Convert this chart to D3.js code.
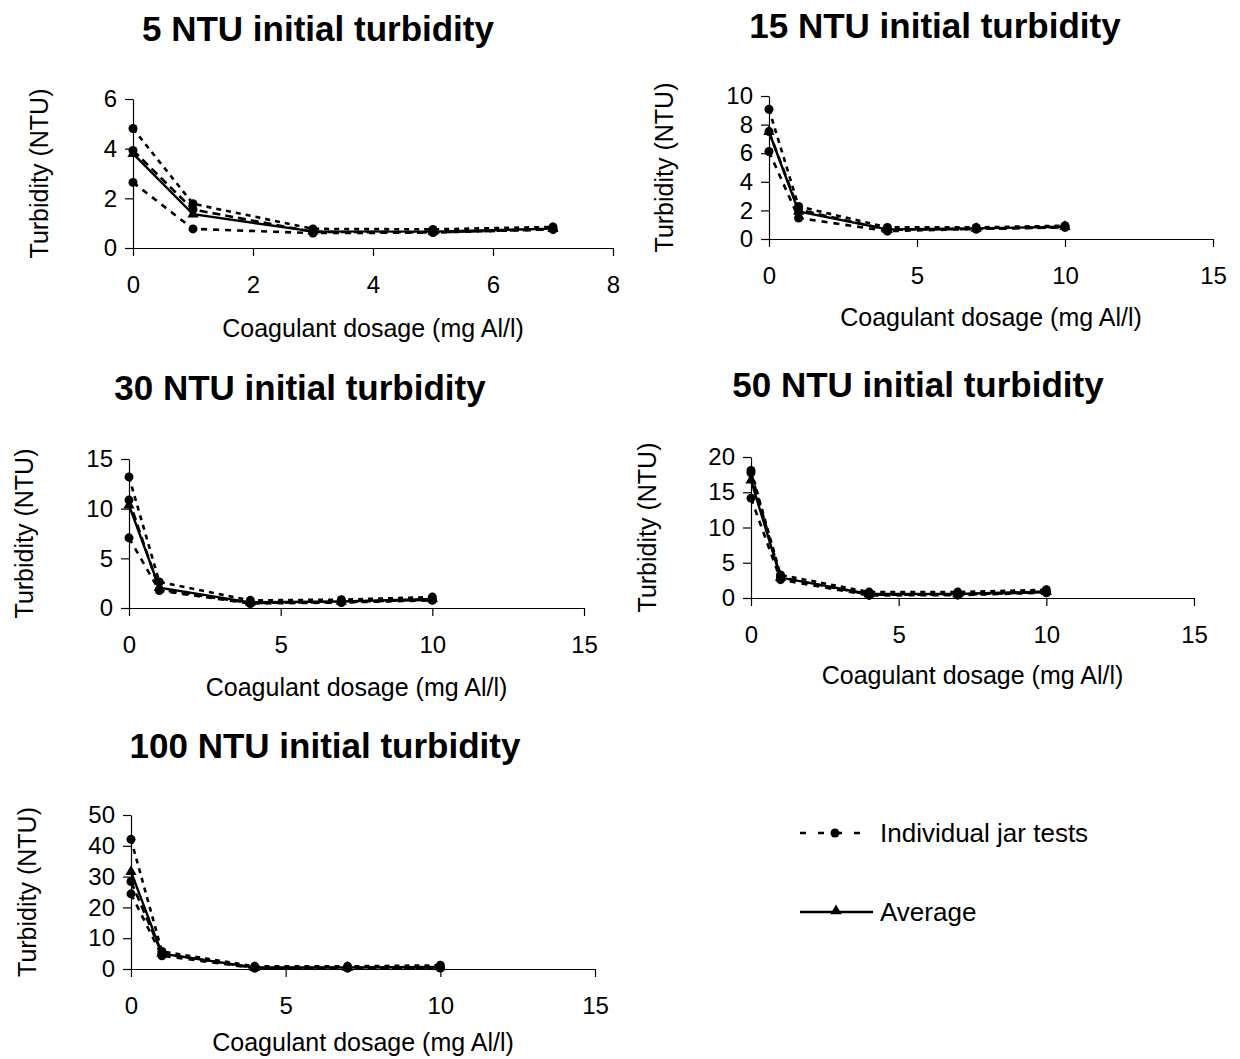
<!DOCTYPE html>
<html>
<head>
<meta charset="utf-8">
<script src="https://d3js.org/d3.v7.min.js"></script>
<style>
  body { margin: 0; background: #fff; }
  svg text { font-family: Arial, "Liberation Sans", sans-serif; fill: #000; }
  .axis text { font-size: 24px; }
  .axis path, .axis line { stroke: #000; stroke-width: 1.2px; }
  .title { font-size: 35px; font-weight: bold; }
  .axisText { font-size: 25px; }
  .legendText { font-size: 26px; }
</style>
</head>
<body>
<div id="svg-area"></div>
<script>
// dosages (mg Al/l)
var dosage5 = [0, 1, 3, 5, 7];
var dosage = [0, 1, 4, 7, 10];

// individual jar tests and average, per initial turbidity
var jar5 = [
  [4.81, 1.78, 0.77, 0.75, 0.85],
  [3.93, 1.55, 0.65, 0.63, 0.75],
  [2.64, 0.77, 0.60, 0.62, 0.75]
];
var avg5 = [3.8, 1.36, 0.67, 0.66, 0.78];

var jar15 = [
  [9.07, 2.28, 0.81, 0.81, 0.93],
  [7.51, 2.05, 0.65, 0.70, 0.81],
  [6.12, 1.47, 0.55, 0.70, 0.85]
];
var avg15 = [7.5, 1.93, 0.67, 0.74, 0.86];

var jar30 = [
  [13.2, 2.62, 0.77, 0.84, 1.10],
  [10.86, 1.85, 0.50, 0.60, 0.84],
  [7.06, 1.75, 0.45, 0.55, 0.77]
];
var avg30 = [10.35, 2.05, 0.57, 0.66, 0.9];

var jar50 = [
  [18.1, 3.27, 0.84, 0.84, 1.17],
  [17.75, 2.94, 0.47, 0.47, 0.84],
  [14.16, 2.60, 0.37, 0.40, 0.75]
];
var avg50 = [16.7, 2.9, 0.56, 0.57, 0.92];

var jar100 = [
  [42.1, 5.7, 0.86, 0.86, 1.2],
  [28.4, 5.0, 0.30, 0.30, 0.5],
  [24.4, 4.3, 0.30, 0.35, 0.3]
];
var avg100 = [31.6, 5.0, 0.49, 0.5, 0.67];

// tick labels
var xTicks5 = [0, 2, 4, 6, 8];
var xTicks = [0, 5, 10, 15];
var yTicks5 = [0, 2, 4, 6];
var yTicks15 = [0, 2, 4, 6, 8, 10];
var yTicks30 = [0, 5, 10, 15];
var yTicks50 = [0, 5, 10, 15, 20];
var yTicks100 = [0, 10, 20, 30, 40, 50];

var titles = ["5 NTU initial turbidity", "15 NTU initial turbidity", "30 NTU initial turbidity",
  "50 NTU initial turbidity", "100 NTU initial turbidity"];

var svgWidth = 1240;
var svgHeight = 1059;

var svg = d3.select("#svg-area")
  .append("svg")
  .attr("width", svgWidth)
  .attr("height", svgHeight);

// panel layout (pixels)
var panels = [
  { x: dosage5, jars: jar5, avg: avg5, xt: xTicks5, yt: yTicks5, title: titles[0],
    left: 133, right: 613, top: 99, bottom: 248, tx: 318, ty: 41, yl: 93, xl: 89 },
  { x: dosage, jars: jar15, avg: avg15, xt: xTicks, yt: yTicks15, title: titles[1],
    left: 769, right: 1213, top: 96, bottom: 239, tx: 935, ty: 38, yl: 104, xl: 87 },
  { x: dosage, jars: jar30, avg: avg30, xt: xTicks, yt: yTicks30, title: titles[2],
    left: 129, right: 584, top: 459, bottom: 608, tx: 300, ty: 400, yl: 104, xl: 88 },
  { x: dosage, jars: jar50, avg: avg50, xt: xTicks, yt: yTicks50, title: titles[3],
    left: 751, right: 1194, top: 457, bottom: 598, tx: 918, ty: 397, yl: 103, xl: 86 },
  { x: dosage, jars: jar100, avg: avg100, xt: xTicks, yt: yTicks100, title: titles[4],
    left: 131, right: 595, top: 815, bottom: 969, tx: 325, ty: 758, yl: 103, xl: 82 }
];

var dashes = ["5,5", "8,5", "6,6"];

var triangle = d3.symbol().type(d3.symbolTriangle).size(55);

panels.forEach(p => {

  var xScale = d3.scaleLinear()
    .domain([0, d3.max(p.xt)])
    .range([p.left, p.right]);

  var yScale = d3.scaleLinear()
    .domain([0, d3.max(p.yt)])
    .range([p.bottom, p.top]);

  var g = svg.append("g");

  // title
  g.append("text")
    .attr("class", "title")
    .attr("x", p.tx)
    .attr("y", p.ty)
    .attr("text-anchor", "middle")
    .text(p.title);

  // axes
  g.append("g")
    .attr("class", "axis")
    .attr("transform", `translate(0, ${p.bottom})`)
    .call(d3.axisBottom(xScale).tickValues(p.xt).tickFormat(d3.format("d"))
      .tickSize(8).tickSizeOuter(0).tickPadding(20));

  g.append("g")
    .attr("class", "axis")
    .attr("transform", `translate(${p.left}, 0)`)
    .call(d3.axisLeft(yScale).tickValues(p.yt).tickFormat(d3.format("d"))
      .tickSize(8).tickSizeOuter(0).tickPadding(8));

  // axis labels
  g.append("text")
    .attr("class", "axisText")
    .attr("x", (p.left + p.right) / 2)
    .attr("y", p.bottom + p.xl)
    .attr("text-anchor", "middle")
    .text("Coagulant dosage (mg Al/l)");

  g.append("text")
    .attr("class", "axisText")
    .attr("transform", `translate(${p.left - p.yl + 8}, ${(p.top + p.bottom) / 2}) rotate(-90)`)
    .attr("text-anchor", "middle")
    .text("Turbidity (NTU)");

  var line = d3.line()
    .x((d, i) => xScale(p.x[i]))
    .y(d => yScale(d));

  // individual jar tests
  p.jars.forEach((jar, j) => {
    g.append("path")
      .datum(jar)
      .attr("d", line)
      .attr("fill", "none")
      .attr("stroke", "#000")
      .attr("stroke-width", 2.6)
      .attr("stroke-dasharray", dashes[j]);

    g.selectAll(null)
      .data(jar)
      .join("circle")
      .attr("cx", (d, i) => xScale(p.x[i]))
      .attr("cy", d => yScale(d))
      .attr("r", 4.5)
      .attr("fill", "#000");
  });

  // average
  g.append("path")
    .datum(p.avg)
    .attr("d", line)
    .attr("fill", "none")
    .attr("stroke", "#000")
    .attr("stroke-width", 2.4);

  g.selectAll(null)
    .data(p.avg)
    .join("path")
    .attr("d", triangle)
    .attr("transform", (d, i) => `translate(${xScale(p.x[i])}, ${yScale(d)})`)
    .attr("fill", "#000");
});

// legend
var legend = svg.append("g");

legend.append("line")
  .attr("x1", 800).attr("x2", 872)
  .attr("y1", 833).attr("y2", 833)
  .attr("stroke", "#000")
  .attr("stroke-width", 2.6)
  .attr("stroke-dasharray", "6,12");

legend.append("circle")
  .attr("cx", 835).attr("cy", 833)
  .attr("r", 4.5)
  .attr("fill", "#000");

legend.append("text")
  .attr("class", "legendText")
  .attr("x", 880).attr("y", 842)
  .text("Individual jar tests");

legend.append("line")
  .attr("x1", 800).attr("x2", 873)
  .attr("y1", 912).attr("y2", 912)
  .attr("stroke", "#000")
  .attr("stroke-width", 2.4);

legend.append("path")
  .attr("d", triangle)
  .attr("transform", "translate(836, 911)")
  .attr("fill", "#000");

legend.append("text")
  .attr("class", "legendText")
  .attr("x", 880).attr("y", 921)
  .text("Average");
</script>
</body>
</html>
